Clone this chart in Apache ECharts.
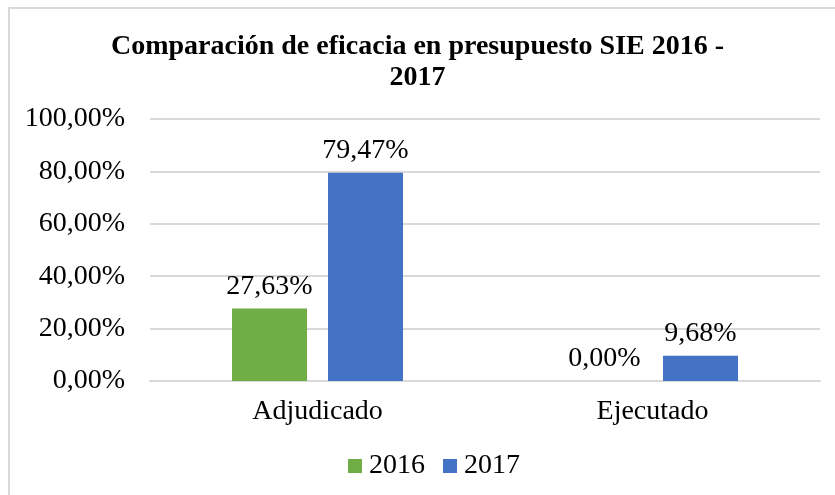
<!DOCTYPE html>
<html>
<head>
<meta charset="utf-8">
<script src="https://cdn.jsdelivr.net/npm/echarts@6/dist/echarts.min.js"></script>
<style>
  html, body { margin: 0; padding: 0; background: #fff; }
  #chart { width: 835px; height: 495px; }
</style>
</head>
<body>
<div id="chart"></div>
<script>
var categories = ['Adjudicado', 'Ejecutado'];
var years = ['2016', '2017'];
var values2016 = [27.63, 0.00];
var values2017 = [79.47, 9.68];
var yTicks = [0, 20, 40, 60, 80, 100];

var chart = echarts.init(document.getElementById('chart'));
var serif = '"Liberation Serif", "Times New Roman", serif';

function pct(v) {
  return v.toFixed(2).replace('.', ',') + '%';
}

var option = {
  backgroundColor: '#fff',
  textStyle: { fontFamily: serif, color: '#000' },
  title: {
    text: 'Comparación de eficacia en presupuesto SIE 2016 -\n2017',
    left: 'center',
    top: 26,
    textStyle: { fontFamily: serif, fontSize: 28, fontWeight: 'bold', color: '#000', lineHeight: 31 }
  },
  graphic: [{
    type: 'rect',
    shape: { x: 9, y: 8, width: 840, height: 500 },
    style: { fill: 'none', stroke: '#d9d9d9', lineWidth: 2 },
    silent: true
  }],
  legend: {
    data: years,
    bottom: 10,
    left: 343,
    icon: 'rect',
    itemWidth: 14,
    itemHeight: 14,
    itemGap: 18,
    textStyle: { fontFamily: serif, fontSize: 28, color: '#000', padding: [0, 0, 0, 2] }
  },
  grid: { left: 150, right: 15, top: 119, bottom: 114 },
  xAxis: {
    type: 'category',
    data: categories,
    axisLine: { lineStyle: { color: '#d9d9d9', width: 2 } },
    axisTick: { show: false },
    axisLabel: { fontFamily: serif, fontSize: 28, color: '#000', margin: 17 }
  },
  yAxis: {
    type: 'value',
    min: yTicks[0],
    max: yTicks[yTicks.length - 1],
    interval: 20,
    axisLine: { show: false },
    axisTick: { show: false },
    splitLine: { lineStyle: { color: '#d9d9d9', width: 2 } },
    axisLabel: {
      fontFamily: serif, fontSize: 28, color: '#000', margin: 25,
      formatter: function (v) { return pct(v); }
    }
  },
  series: [
    {
      name: years[0],
      type: 'bar',
      data: values2016,
      barWidth: 75,
      barGap: '28%',
      itemStyle: { color: '#70ad47' },
      label: {
        show: true, position: 'top', distance: 8,
        fontFamily: serif, fontSize: 28, color: '#000',
        formatter: function (p) { return pct(p.value); }
      }
    },
    {
      name: years[1],
      type: 'bar',
      data: values2017,
      barWidth: 75,
      barGap: '28%',
      itemStyle: { color: '#4472c4' },
      label: {
        show: true, position: 'top', distance: 8,
        fontFamily: serif, fontSize: 28, color: '#000',
        formatter: function (p) { return pct(p.value); }
      }
    }
  ]
};

chart.setOption(option);
</script>
</body>
</html>
